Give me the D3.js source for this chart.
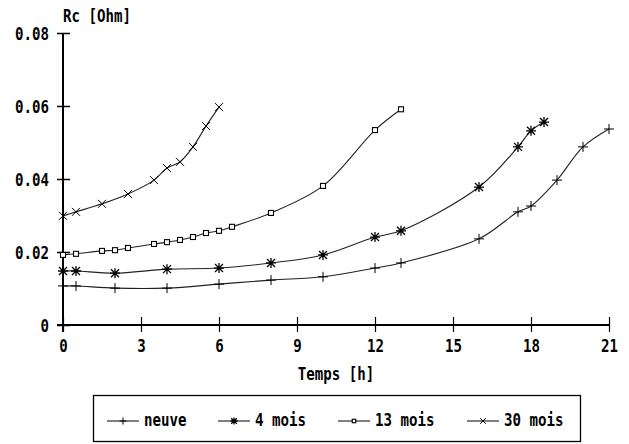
<!DOCTYPE html>
<html>
<head>
<meta charset="utf-8">
<script src="https://cdn.jsdelivr.net/npm/d3@7"></script>
<style>
  body { margin: 0; background: #fff; }
  text { font-family: "DejaVu Sans Mono", monospace; font-weight: bold; fill: #000; font-size: 17px; }
</style>
</head>
<body>
<svg id="chart" width="629" height="444"></svg>
<script>
// data
var t_neuve = [0, 0.5, 2, 4, 6, 8, 10, 12, 13, 16, 17.5, 18, 19, 20, 21]
var r_neuve = [0.0107, 0.0107, 0.0101, 0.0101, 0.0112, 0.0123, 0.0132, 0.0156, 0.0170, 0.0236, 0.0310, 0.0326, 0.0397, 0.0488, 0.0537]

var t_4mois = [0, 0.5, 2, 4, 6, 8, 10, 12, 13, 16, 17.5, 18, 18.5]
var r_4mois = [0.0148, 0.0148, 0.0142, 0.0153, 0.0156, 0.0170, 0.0192, 0.0241, 0.0258, 0.0378, 0.0488, 0.0532, 0.0556]

var t_13mois = [0, 0.5, 1.5, 2, 2.5, 3.5, 4, 4.5, 5, 5.5, 6, 6.5, 8, 10, 12, 13]
var r_13mois = [0.0192, 0.0195, 0.0203, 0.0205, 0.0211, 0.0222, 0.0227, 0.0233, 0.0241, 0.0252, 0.0258, 0.0269, 0.0307, 0.0381, 0.0534, 0.0591]

var t_30mois = [0, 0.5, 1.5, 2.5, 3.5, 4, 4.5, 5, 5.5, 6]
var r_30mois = [0.0299, 0.0310, 0.0332, 0.0359, 0.0397, 0.0430, 0.0447, 0.0488, 0.0545, 0.0597]

var series_names = ['neuve', '4 mois', '13 mois', '30 mois']
var series_marks = ['plus', 'star', 'square', 'cross']
var x_ticks = [0, 3, 6, 9, 12, 15, 18, 21]
var y_ticks = [0, 0.02, 0.04, 0.06, 0.08]

var series = [
    { t: t_neuve, r: r_neuve },
    { t: t_4mois, r: r_4mois },
    { t: t_13mois, r: r_13mois },
    { t: t_30mois, r: r_30mois }
]

const svg = d3.select('#chart')
const x = d3.scaleLinear().domain([0, 21]).range([63, 609])
const y = d3.scaleLinear().domain([0, 0.08]).range([325, 33])

var line_color = '#222'
var squash_k = 0.83 // narrow the mono font like the old bitmap one

// move x/y of a text into a transform so it can be squeezed horizontally
var squash = function (sel) {
    sel.each(function () {
        var t = d3.select(this)
        var tx = +t.attr('x') || 0
        var ty = +t.attr('y') || 0
        t.attr('x', 0).attr('y', 0).attr('dy', null)
            .attr('transform', `translate(${tx},${ty}) scale(${squash_k},1)`)
    })
}

// axes
var x_axis = svg.append('g')
    .attr('transform', `translate(0,${y(0)})`)
    .call(d3.axisBottom(x).tickValues(x_ticks).tickSize(7).tickSizeOuter(0).tickFormat(d3.format('d')))
x_axis.select('.domain').remove()
x_axis.selectAll('.tick line').attr('y1', -8).attr('stroke', '#000').attr('stroke-width', 1.2)
x_axis.selectAll('.tick text').attr('y', 27).attr('font-size', null).attr('font-family', null).call(squash)
x_axis.append('line')
    .attr('x1', 57).attr('x2', x(21))
    .attr('stroke', '#000').attr('stroke-width', 2)

var y_axis = svg.append('g')
    .attr('transform', `translate(${x(0)},0)`)
    .call(d3.axisLeft(y).tickValues(y_ticks).tickSize(6).tickSizeOuter(0)
        .tickFormat(d => d == 0 ? '0' : d3.format('.2f')(d)))
y_axis.select('.domain').remove()
y_axis.selectAll('.tick line').attr('x1', 7).attr('stroke', '#000').attr('stroke-width', 1.5)
y_axis.selectAll('.tick text').attr('x', -14).attr('y', 6).attr('font-size', null).attr('font-family', null).call(squash)
y_axis.append('line')
    .attr('y1', y(0.08)).attr('y2', y(0) + 7)
    .attr('stroke', '#000').attr('stroke-width', 2)

// axis titles
svg.append('text').attr('x', 63).attr('y', 22).text('Rc [Ohm]').call(squash)
svg.append('text').attr('x', 336).attr('y', 380).attr('text-anchor', 'middle').text('Temps [h]').call(squash)

// markers
var draw_mark = function (g, kind, cx, cy, s) {
    var p = d3.path()
    if (kind == 'plus' || kind == 'star') {
        p.moveTo(cx - s, cy); p.lineTo(cx + s, cy)
        p.moveTo(cx, cy - s); p.lineTo(cx, cy + s)
    }
    if (kind == 'cross' || kind == 'star') {
        var k = s * 0.8
        p.moveTo(cx - k, cy - k); p.lineTo(cx + k, cy + k)
        p.moveTo(cx - k, cy + k); p.lineTo(cx + k, cy - k)
    }
    if (kind == 'square') {
        var h = s * 0.5
        g.append('rect')
            .attr('x', cx - h).attr('y', cy - h)
            .attr('width', h * 2).attr('height', h * 2)
            .attr('fill', '#fff').attr('stroke', '#000').attr('stroke-width', 1.1)
        return
    }
    g.append('path').attr('d', p.toString())
        .attr('fill', 'none').attr('stroke', '#000').attr('stroke-width', kind == 'star' ? 1.3 : 1)
}

var line = d3.line()
    .x(d => x(d[0]))
    .y(d => y(d[1]))
    .curve(d3.curveCatmullRom.alpha(0.5))

series.forEach(function (s, i) {
    var pts = d3.zip(s.t, s.r)
    var g = svg.append('g')
    g.append('path')
        .datum(pts)
        .attr('d', line)
        .attr('fill', 'none')
        .attr('stroke', line_color)
        .attr('stroke-width', 1.1)
    pts.forEach(function (d) {
        draw_mark(g, series_marks[i], x(d[0]), y(d[1]), 5)
    })
})

// legend
var legend = svg.append('g')
legend.append('rect')
    .attr('x', 93.5).attr('y', 395.5).attr('width', 487).attr('height', 46)
    .attr('fill', 'none').attr('stroke', '#000').attr('stroke-width', 1.3)

var legend_x = [107, 218, 338, 467]
series_names.forEach(function (name, i) {
    var lx = legend_x[i]
    var gy = 421
    legend.append('line')
        .attr('x1', lx).attr('x2', lx + 32)
        .attr('y1', gy).attr('y2', gy)
        .attr('stroke', '#000').attr('stroke-width', 1)
    draw_mark(legend, series_marks[i], lx + 16, gy, 3.5)
    legend.append('text')
        .attr('x', lx + 37).attr('y', gy + 5)
        .text(name)
        .call(squash)
})
</script>
</body>
</html>
